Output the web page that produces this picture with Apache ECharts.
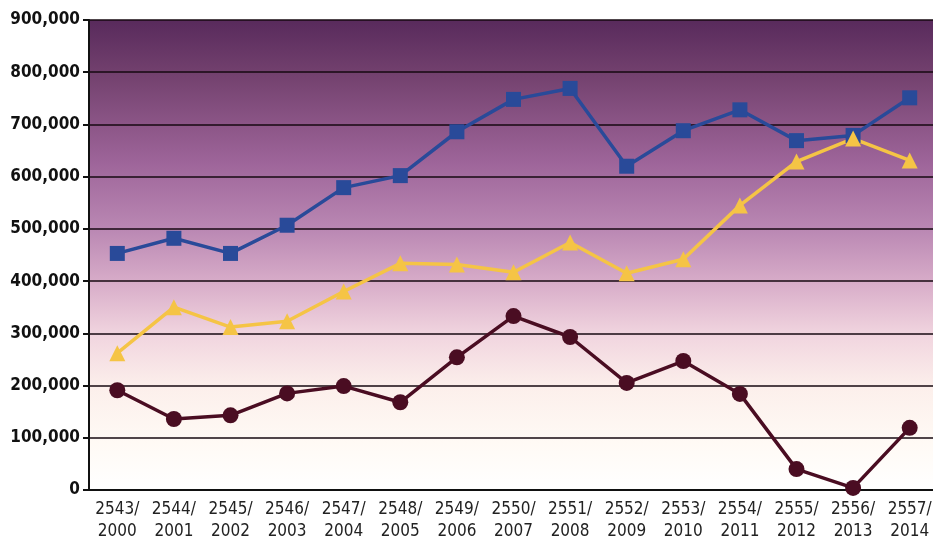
<!DOCTYPE html>
<html>
<head>
<meta charset="utf-8">
<script src="https://cdn.jsdelivr.net/npm/echarts@6/dist/echarts.min.js"></script>
<style>
  html, body { margin: 0; padding: 0; background: #fff; }
  #chart { width: 933px; height: 538px; }
</style>
</head>
<body>
<div id="chart"></div>
<script>
  // Thai Buddhist year / Gregorian year
  var categories = ['2543/\n2000', '2544/\n2001', '2545/\n2002', '2546/\n2003', '2547/\n2004',
    '2548/\n2005', '2549/\n2006', '2550/\n2007', '2551/\n2008', '2552/\n2009',
    '2553/\n2010', '2554/\n2011', '2555/\n2012', '2556/\n2013', '2557/\n2014']

  var blueValues = [453000, 482000, 453000, 507000, 579000, 602000, 686000, 748000, 769000,
    620000, 688000, 728000, 669000, 679000, 751000]
  var yellowValues = [262000, 350000, 312000, 323000, 380000, 434000, 432000, 417000, 474000,
    415000, 442000, 545000, 629000, 673000, 631000]
  var maroonValues = [191000, 136000, 143000, 185000, 199000, 168000, 254000, 333000, 293000,
    205000, 247000, 184000, 40000, 4000, 119000]

  var chart = echarts.init(document.getElementById('chart'))

  function lineSeries(data, color, symbol, size) {
    return {
      type: 'line',
      data: data,
      symbol: symbol,
      symbolSize: size,
      showAllSymbol: true,
      lineStyle: { color: color, width: 3.5 },
      itemStyle: { color: color },
      z: 3
    }
  }

  chart.setOption({
    animation: false,
    grid: {
      left: 89, right: -5, top: 20, bottom: 48,
      outerBoundsMode: 'none',
      containLabel: false,
      show: true,
      borderWidth: 0,
      backgroundColor: {
        type: 'linear', x: 0, y: 0, x2: 0, y2: 1,
        colorStops: [
          { offset: 0, color: '#582a5c' },
          { offset: 0.12, color: '#74426f' },
          { offset: 0.3, color: '#9d6499' },
          { offset: 0.45, color: '#bb89b4' },
          { offset: 0.56, color: '#d8adc9' },
          { offset: 0.67, color: '#f1d5df' },
          { offset: 0.78, color: '#fcefeb' },
          { offset: 0.9, color: '#fffaf5' },
          { offset: 1, color: '#ffffff' }
        ]
      }
    },
    xAxis: {
      type: 'category',
      data: categories,
      boundaryGap: true,
      axisLine: { show: true, lineStyle: { color: '#111', width: 2 } },
      axisTick: { show: false },
      axisLabel: {
        interval: 0,
        color: '#222',
        fontFamily: 'DejaVu Sans Condensed',
        fontSize: 17,
        lineHeight: 22,
        margin: 9
      }
    },
    yAxis: {
      type: 'value',
      min: 0,
      max: 900000,
      interval: 100000,
      axisLine: { show: true, lineStyle: { color: '#111', width: 2 } },
      axisTick: { show: true, length: 6, lineStyle: { color: '#111', width: 2 } },
      splitLine: { show: true, lineStyle: { color: '#160810', width: 1.6 } },
      axisLabel: {
        color: '#111',
        fontFamily: 'DejaVu Sans Condensed',
        fontWeight: 'bold',
        fontSize: 17,
        margin: 9,
        formatter: function (v) { return v.toLocaleString('en-US') }
      }
    },
    series: [
      lineSeries(blueValues, '#294a99', 'rect', 15),
      lineSeries(yellowValues, '#f5c445', 'triangle', 16),
      lineSeries(maroonValues, '#4a0d22', 'circle', 16)
    ]
  })
</script>
</body>
</html>
